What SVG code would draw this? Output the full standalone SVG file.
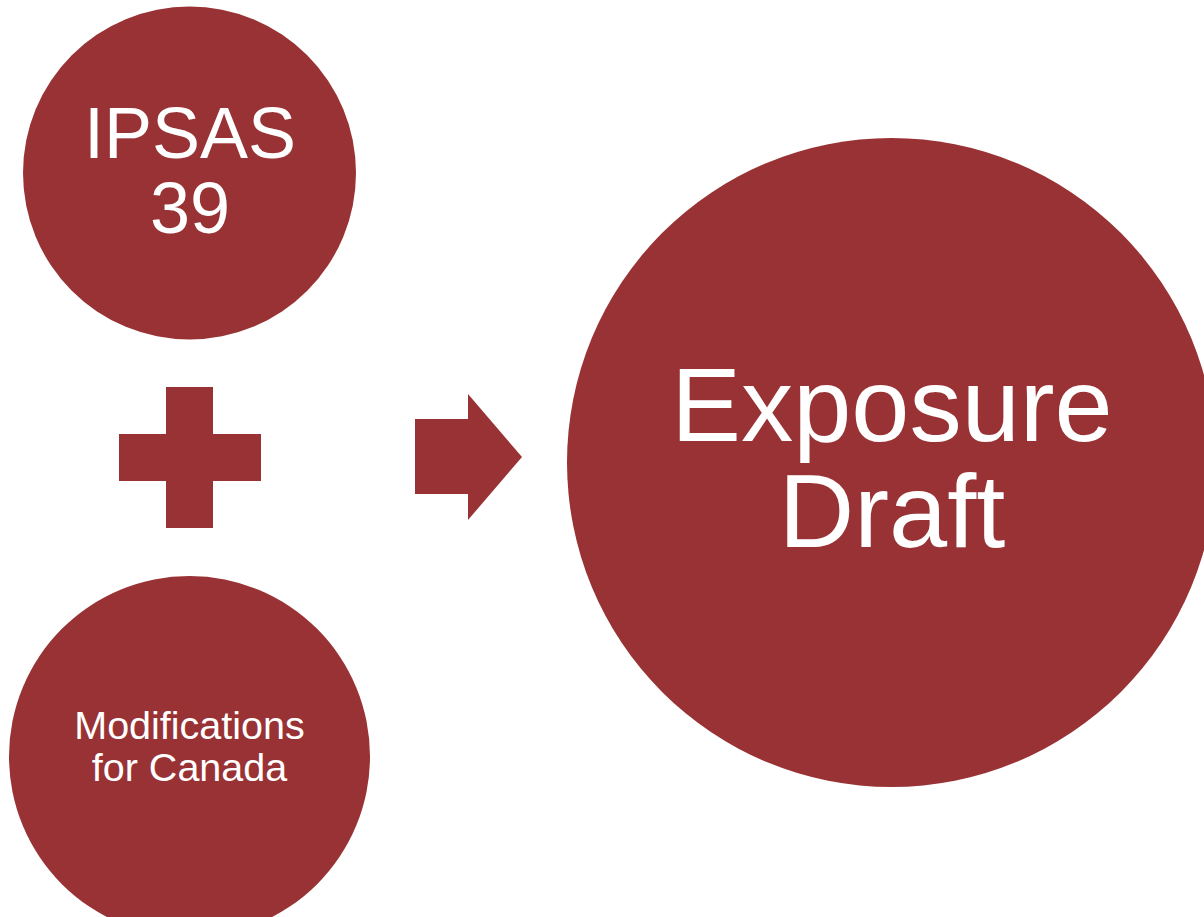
<svg xmlns="http://www.w3.org/2000/svg" width="1204" height="917" viewBox="0 0 1204 917">
<style>
.n{fill:#993234}
.t{fill:#ffffff;font-family:"Liberation Sans",Arial,sans-serif;text-anchor:middle}
</style>
<rect width="1204" height="917" fill="#ffffff"/>
<g id="ipsas">
<circle class="n" cx="189.5" cy="173" r="166.5"/>
<text class="t" font-size="72"><tspan x="190" y="158">IPSAS</tspan><tspan x="190" y="233">39</tspan></text>
</g>
<g id="plus">
<path class="n" d="M166 387H213V434H261V481H213V528H166V481H119V434H166Z"/>
</g>
<g id="modifications">
<circle class="n" cx="189.5" cy="756.5" r="180.5"/>
<text class="t" font-size="39.5"><tspan x="189.5" y="739">Modifications</tspan><tspan x="189.5" y="781">for Canada</tspan></text>
</g>
<g id="connectors">
<path class="n" d="M415 419H468V394L522 457L468 520V494H415Z"/>
</g>
<g id="exposure">
<circle class="n" cx="891.5" cy="462.5" r="324.5"/>
<text class="t" font-size="104.5"><tspan x="892" y="441">Exposure</tspan><tspan x="892" y="547">Draft</tspan></text>
</g>
</svg>
